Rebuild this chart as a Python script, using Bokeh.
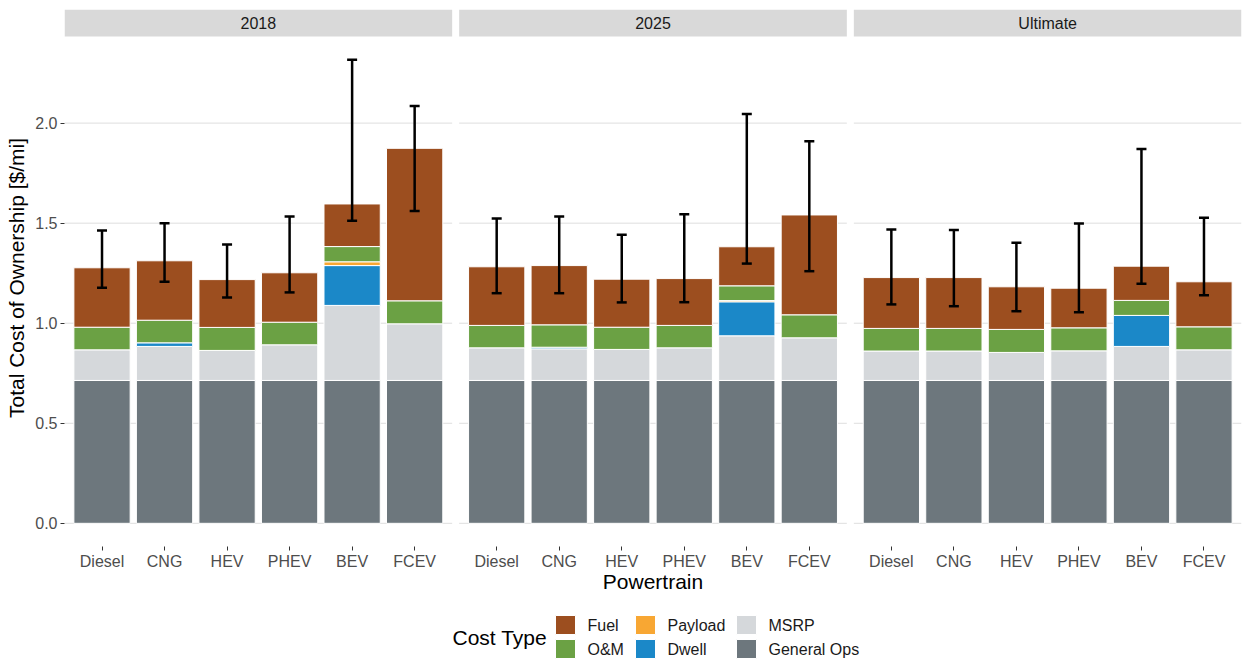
from bokeh.plotting import figure
from bokeh.models import (ColumnDataSource, Range1d, FixedTicker, NumeralTickFormatter,
                          Whisker, TeeHead)
from bokeh.layouts import column
from bokeh.embed import file_html
from bokeh.resources import INLINE
from bokeh.core.properties import value

# ---------------- data ----------------
scenarios = ["2018", "2025", "Ultimate"]
powertrains = ["Diesel", "CNG", "HEV", "PHEV", "BEV", "FCEV"]

# values per bar, scenario-major order (2018 x6, 2025 x6, Ultimate x6), $/mi
general_ops = [0.714, 0.714, 0.714, 0.714, 0.714, 0.714,
               0.714, 0.714, 0.714, 0.714, 0.714, 0.714,
               0.714, 0.714, 0.714, 0.714, 0.714, 0.714]
msrp = [0.153, 0.170, 0.150, 0.178, 0.375, 0.283,
        0.163, 0.158, 0.155, 0.163, 0.223, 0.213,
        0.147, 0.147, 0.140, 0.148, 0.170, 0.153]
dwell = [0.0, 0.018, 0.0, 0.0, 0.199, 0.0,
         0.0, 0.008, 0.0, 0.0, 0.170, 0.0,
         0.0, 0.0, 0.0, 0.0, 0.155, 0.0]
payload = [0.0, 0.0, 0.0, 0.0, 0.019, 0.0,
           0.0, 0.0, 0.0, 0.0, 0.006, 0.0,
           0.0, 0.0, 0.0, 0.0, 0.0, 0.0]
om = [0.113, 0.113, 0.115, 0.113, 0.076, 0.115,
      0.112, 0.112, 0.111, 0.112, 0.074, 0.115,
      0.113, 0.113, 0.115, 0.115, 0.075, 0.115]
fuel = [0.297, 0.297, 0.239, 0.247, 0.213, 0.762,
        0.293, 0.296, 0.240, 0.234, 0.195, 0.499,
        0.254, 0.254, 0.213, 0.198, 0.171, 0.225]
err_lower = [1.177, 1.207, 1.129, 1.154, 1.512, 1.561,
             1.150, 1.150, 1.104, 1.105, 1.298, 1.260,
             1.094, 1.085, 1.060, 1.055, 1.197, 1.140]
err_upper = [1.463, 1.500, 1.393, 1.533, 2.317, 2.086,
             1.523, 1.533, 1.442, 1.545, 2.046, 1.909,
             1.468, 1.466, 1.402, 1.498, 1.871, 1.527]

y_ticks = [0.0, 0.5, 1.0, 1.5, 2.0]

# stacking order, bottom to top
stack = [("General Ops", general_ops), ("MSRP", msrp), ("Dwell", dwell),
         ("Payload", payload), ("O&M", om), ("Fuel", fuel)]
colors = {"Fuel": "#9C4E1F", "O&M": "#6BA144", "Payload": "#F8A733",
          "Dwell": "#1B88C8", "MSRP": "#D5D8DB", "General Ops": "#6D777D"}
legend_cols = [["Fuel", "O&M"], ["Payload", "Dwell"], ["MSRP", "General Ops"]]
legend_title = "Cost Type"

# ---------------- layout constants ----------------
FONT = "Liberation Sans"
GAP_PX = 7
LEFT = 64
RIGHT = 2
TOP = 9
FRAME_W = 1243 - LEFT - RIGHT
FRAME_H = 537
STRIP_PX = 27
BOTTOM = 54
LH = 660 - (TOP + FRAME_H + BOTTOM)

n_pt = len(powertrains)
panel_span = n_pt + 0.2
panel_px = (FRAME_W - 2 * GAP_PX) / 3
cat_px = panel_px / panel_span
gap_u = GAP_PX / cat_px


def panel_left(k):
    return k * (panel_span + gap_u)


xs = []
for k in range(len(scenarios)):
    for i in range(n_pt):
        xs.append(round(panel_left(k) + 0.6 + i, 4))

upper_max = max(err_upper)
pad = 0.05 * upper_max
y_lo = -pad
y_hi = upper_max + pad
per_px = (y_hi - y_lo) / (FRAME_H - STRIP_PX)
y_top = y_hi + STRIP_PX * per_px

p = figure(frame_width=FRAME_W, frame_height=FRAME_H,
           x_range=Range1d(0, panel_left(3) - gap_u), y_range=Range1d(y_lo, y_top),
           output_backend="svg", toolbar_location=None,
           min_border_top=TOP, min_border_left=LEFT, min_border_right=RIGHT,
           min_border_bottom=BOTTOM)
p.outline_line_color = None
p.grid.visible = False
p.background_fill_color = "white"
p.border_fill_color = "white"

# panel grid lines
gx0, gx1, gy = [], [], []
for k in range(len(scenarios)):
    for t in y_ticks:
        gx0.append(panel_left(k))
        gx1.append(panel_left(k) + panel_span)
        gy.append(t)
p.segment(x0=gx0, x1=gx1, y0=gy, y1=gy, line_color="#DEDEDE", line_width=1)

# stacked bars
base = [0.0] * len(xs)
for name, vals in stack:
    bx, bb, bt = [], [], []
    for x, b, v in zip(xs, base, vals):
        if v > 0:
            bx.append(x)
            bb.append(b)
            bt.append(b + v)
    src = ColumnDataSource(dict(x=bx, bottom=bb, top=bt))
    p.vbar(x="x", bottom="bottom", top="top", width=0.9, source=src,
           fill_color=colors[name], line_color="white", line_width=1)
    base = [b + v for b, v in zip(base, vals)]

# error bars
esrc = ColumnDataSource(dict(x=xs, lower=err_lower, upper=err_upper))
w = Whisker(source=esrc, base="x", lower="lower", upper="upper", dimension="height",
            line_color="black", line_width=2.5, level="overlay",
            upper_head=TeeHead(size=10, line_width=2.5, line_color="black"),
            lower_head=TeeHead(size=10, line_width=2.5, line_color="black"))
p.add_layout(w)

# facet strips
p.quad(left=[panel_left(k) for k in range(3)],
       right=[panel_left(k) + panel_span for k in range(3)],
       bottom=[y_hi] * 3, top=[y_top] * 3, fill_color="#D9D9D9", line_color=None)
p.text(x=[panel_left(k) + panel_span / 2 for k in range(3)], y=[(y_hi + y_top) / 2] * 3,
       text=scenarios, text_align="center", text_baseline="middle",
       text_font=value(FONT), text_font_size="16px", text_color="#1A1A1A")

# axes
p.yaxis.ticker = FixedTicker(ticks=y_ticks)
p.yaxis.formatter = NumeralTickFormatter(format="0.0")
p.yaxis.axis_label = "Total Cost of Ownership [$/mi]"
p.xaxis.ticker = FixedTicker(ticks=xs)
p.xaxis.major_label_overrides = {x: pt for x, pt in zip(xs, powertrains * 3)}
p.xaxis.axis_label = "Powertrain"
for ax in [p.xaxis[0], p.yaxis[0]]:
    ax.axis_line_color = None
    ax.major_tick_line_color = "#333333"
    ax.major_tick_out = 4
    ax.major_tick_in = 0
    ax.minor_tick_line_color = None
    ax.major_label_text_font = FONT
    ax.major_label_text_font_size = "16px"
    ax.major_label_text_color = "#4D4D4D"
    ax.axis_label_text_font = FONT
    ax.axis_label_text_font_size = "21px"
    ax.axis_label_text_font_style = "normal"
    ax.axis_label_text_color = "black"
p.xaxis.major_label_standoff = 2
p.xaxis.axis_label_standoff = -3
p.yaxis.major_label_standoff = 3
p.yaxis.axis_label_standoff = 4

# ---------------- legend strip (frame aligned with the main frame) ----------------
lf = figure(frame_width=FRAME_W, frame_height=LH, x_range=Range1d(0, FRAME_W),
            y_range=Range1d(0, LH), x_axis_location=None, y_axis_location=None,
            min_border=0, toolbar_location=None, output_backend="svg")
lf.outline_line_color = None
lf.xgrid.visible = False
lf.ygrid.visible = False
lf.background_fill_color = "white"
lf.border_fill_color = "white"

KEY_W, KEY_H = 20, 19
col_left = [555 - LEFT, 635 - LEFT, 736 - LEFT]     # key left edges (px in frame)
row_y = [LH - 24.5, LH - 48.5]                       # row centres
sx, sy, sc, tx, ty, tt = [], [], [], [], [], []
for cl, names in zip(col_left, legend_cols):
    for ry, n in zip(row_y, names):
        sx.append(cl + KEY_W / 2)
        sy.append(ry)
        sc.append(colors[n])
        tx.append(cl + KEY_W + 12)
        ty.append(ry)
        tt.append(n)
lf.rect(x=sx, y=sy, width=KEY_W, height=KEY_H, fill_color=sc, line_color="white",
        line_width=1)
lf.text(x=tx, y=ty, text=tt, text_baseline="middle", text_font=value(FONT),
        text_font_size="16px", text_color="#1A1A1A")
lf.text(x=[452 - LEFT], y=[sum(row_y) / 2], text=[legend_title], text_baseline="middle",
        text_font=value(FONT), text_font_size="21px", text_color="black")

layout = column(p, lf, spacing=0)
open("out.html", "w").write(file_html(layout, INLINE))
